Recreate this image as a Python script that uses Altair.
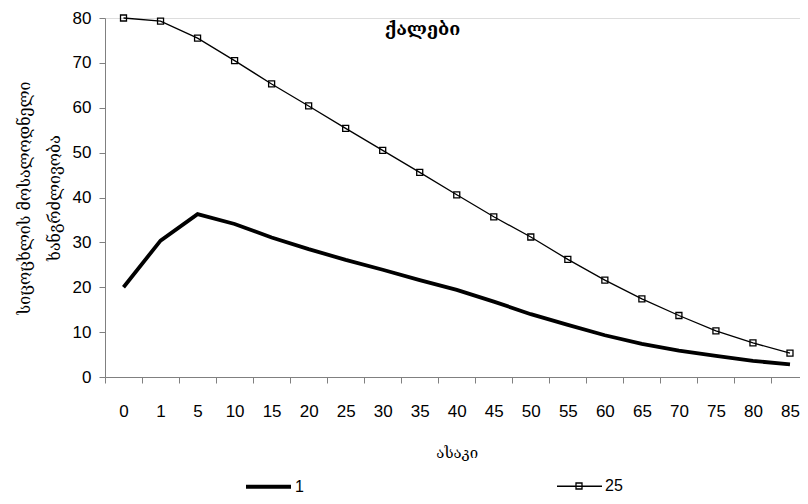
import altair as alt
import pandas as pd

ages = ["0", "1", "5", "10", "15", "20", "25", "30", "35", "40",
        "45", "50", "55", "60", "65", "70", "75", "80", "85"]
series_1 = [20.0, 30.4, 36.3, 34.1, 31.1, 28.5, 26.1, 23.9, 21.6, 19.4,
            16.8, 14.0, 11.6, 9.3, 7.4, 5.9, 4.7, 3.6, 2.8]
series_25 = [80.0, 79.3, 75.5, 70.5, 65.3, 60.4, 55.4, 50.5, 45.6, 40.6,
             35.7, 31.2, 26.2, 21.6, 17.4, 13.7, 10.3, 7.6, 5.3]
series_names = ["1", "25"]
y_ticks = [0, 10, 20, 30, 40, 50, 60, 70, 80]

title_text = "ქალები"
x_title = "ასაკი"
y_title = ["სიცოცხლის მოსალოდნელი", "ხანგრძლივობა"]

rows = []
for a, v in zip(ages, series_1):
    rows.append({"age": a, "series": series_names[0], "value": v})
for a, v in zip(ages, series_25):
    rows.append({"age": a, "series": series_names[1], "value": v})
df = pd.DataFrame(rows)

GEO = "DejaVu Serif"
LAT = "Liberation Sans"
W, H = 695, 359

x_enc = alt.X(
    "age:N", sort=ages, bandPosition=0.5,
    scale=alt.Scale(type="band", domain=ages, range=[0, 703.5],
                    paddingInner=0, paddingOuter=0),
    axis=alt.Axis(title=x_title, labelAngle=0, tickBand="extent",
                  labelFont=LAT, labelFontSize=17, labelColor="black",
                  labelPadding=20, tickSize=6, tickColor="#808080",
                  domainColor="#808080", grid=False,
                  titleFont=GEO, titleFontSize=15, titleFontWeight="normal",
                  titleColor="black", titlePadding=26),
)
y_enc = alt.Y(
    "value:Q",
    scale=alt.Scale(domain=[0, 80], nice=False, zero=True),
    axis=alt.Axis(title=y_title, values=y_ticks, labelFont=LAT,
                  labelFontSize=17, labelColor="black", labelPadding=8,
                  tickSize=6, tickColor="#808080", domainColor="#808080",
                  grid=False, titleFont=GEO, titleFontSize=16,
                  titleFontWeight="normal", titleColor="black",
                  titleLineHeight=30, titlePadding=10),
)

lines = alt.Chart(df).mark_line(color="black").encode(
    x=x_enc, y=y_enc,
    strokeWidth=alt.StrokeWidth(
        "series:N", sort=series_names,
        scale=alt.Scale(domain=series_names, range=[3.8, 1.3]),
        legend=alt.Legend(
            orient="none", legendX=139, legendY=444, direction="horizontal",
            title=None, symbolType="stroke", symbolSize=2025,
            symbolStrokeColor="black", labelFont=LAT, labelFontSize=16,
            labelColor="black", labelOffset=2, columnPadding=250, padding=0,
        )),
)

pts = alt.Chart(df).transform_filter(
    alt.datum.series == series_names[1]
).mark_point(filled=False, size=36, color="black", strokeWidth=1.3,
             opacity=1).encode(
    x=x_enc, y=y_enc,
    shape=alt.Shape(
        "series:N",
        scale=alt.Scale(domain=[series_names[1]], range=["square"]),
        legend=alt.Legend(
            orient="none", legendX=470, legendY=464, title=None,
            symbolSize=36, symbolStrokeColor="black", symbolStrokeWidth=1.3,
            symbolFillColor="white", labelOpacity=0, labelFontSize=1,
            padding=0, labelOffset=0),
    ),
)

chart = alt.layer(lines, pts).resolve_legend(shape="independent").properties(
    width=W, height=H,
    title=alt.TitleParams(title_text, font=GEO, fontSize=18,
                          fontWeight="bold", color="black",
                          anchor="middle", dx=-30, dy=30, offset=0),
    autosize=alt.AutoSizeParams(type="none"),
    padding={"left": 97, "top": 10, "right": 0, "bottom": 119},
).configure_view(stroke=None).configure(background="white")

chart.save("out.html", embed_options={"renderer": "svg", "actions": False})
